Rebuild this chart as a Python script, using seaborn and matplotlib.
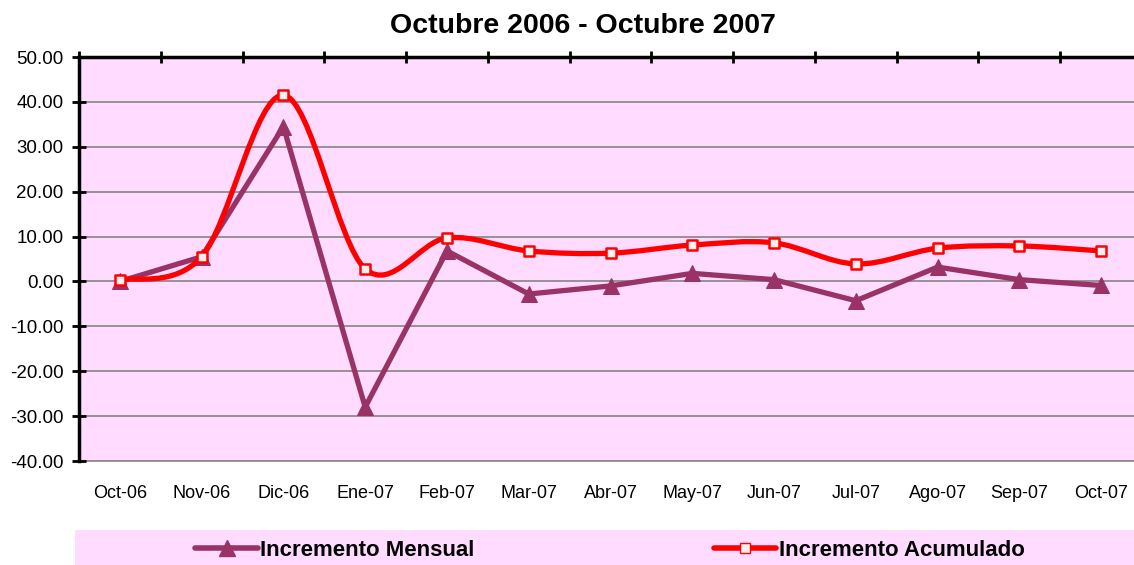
import numpy as np
import pandas as pd
import matplotlib
matplotlib.use("Agg")
import matplotlib.pyplot as plt
from matplotlib.path import Path
from matplotlib.patches import PathPatch, Rectangle
from matplotlib.lines import Line2D
import seaborn as sns

# values
meses = ["Oct-06", "Nov-06", "Dic-06", "Ene-07", "Feb-07", "Mar-07", "Abr-07",
         "May-07", "Jun-07", "Jul-07", "Ago-07", "Sep-07", "Oct-07"]
mensual = [0.0, 5.5, 34.5, -28.0, 6.8, -2.8, -1.0, 1.8, 0.4, -4.3, 3.2, 0.4, -0.9]
acumulado = [0.3, 5.5, 41.5, 2.8, 9.7, 6.8, 6.3, 8.1, 8.6, 3.9, 7.4, 7.9, 6.8]
y_ticks = [-40, -30, -20, -10, 0, 10, 20, 30, 40, 50]

PINK = "#FFDCFF"
PLUM = "#993366"
RED = "#FF0000"

sns.set_style("white")
plt.rcParams["font.family"] = ["Liberation Sans", "DejaVu Sans"]
plt.rcParams["text.color"] = "black"
plt.rcParams["xtick.color"] = "black"
plt.rcParams["ytick.color"] = "black"

df = pd.DataFrame({"mes": meses, "pos": np.arange(len(meses)),
                   "mensual": mensual, "acumulado": acumulado})

fig = plt.figure(figsize=(11.34, 5.65), dpi=100)
W, H = 1134, 565
ax = fig.add_axes([79 / W, 1 - 461 / H, (1142 - 79) / W, (461 - 57) / H])
ax.set_facecolor(PINK)

# smoothed red curve (Excel style), bezier through the data points
pts = df[["pos", "acumulado"]].to_numpy(dtype=float)
ext = np.vstack([pts[0], pts, pts[-1]])
verts = [tuple(pts[0])]
codes = [Path.MOVETO]
for i in range(1, len(ext) - 2):
    p0, p1, p2, p3 = ext[i - 1], ext[i], ext[i + 1], ext[i + 2]
    c1 = p1 + (p2 - p0) / 6
    c2 = p2 - (p3 - p1) / 6
    verts += [tuple(c1), tuple(c2), tuple(p2)]
    codes += [Path.CURVE4] * 3
ax.add_patch(PathPatch(Path(verts, codes), facecolor="none", edgecolor=RED,
                       lw=3.8, zorder=3, transform=ax.transData))
ax.scatter(df["pos"], df["acumulado"], marker="s", s=55, facecolor="#FFEEEE",
           edgecolor=RED, linewidths=1.8, zorder=4)

sns.lineplot(data=df, x="pos", y="mensual", ax=ax, color=PLUM, lw=3.8,
             marker="^", markersize=12, markeredgecolor=PLUM, zorder=2)

ax.set_xlim(-0.5, len(meses) - 0.5)
ax.set_ylim(-40, 50)
ax.set_yticks(y_ticks)
ax.set_yticklabels([f"{v:.2f}" for v in y_ticks], fontsize=13.5)
ax.set_xticks(df["pos"])
ax.set_xticklabels(meses, fontsize=13)
ax.set_xticks(np.arange(-0.5, len(meses), 1.0), minor=True)
ax.tick_params(axis="x", which="major", length=0, pad=17, bottom=True, top=False)
ax.tick_params(axis="x", which="minor", top=True, bottom=False, direction="inout",
               length=9, width=2, color="black")
ax.tick_params(axis="y", which="major", left=True, direction="inout", length=10,
               width=2, color="black", pad=6)
ax.set_xlabel("")
ax.set_ylabel("")

ax.yaxis.grid(True, color="#8C8C8C", lw=1.3)
ax.set_axisbelow(True)
for s in ["left", "top"]:
    ax.spines[s].set_color("black")
    ax.spines[s].set_linewidth(2.5)
ax.spines["bottom"].set_color("#8C8C8C")
ax.spines["bottom"].set_linewidth(1.3)
ax.spines["right"].set_visible(False)
ax.spines["bottom"].set_zorder(0)

fig.text(583 / W, 1 - 26 / H, "Octubre 2006 - Octubre 2007", ha="center",
         va="center", fontsize=20.5, fontweight="bold")

# legend band
fig.add_artist(Rectangle((75 / W, 1 - 565 / H), (1134 - 75) / W, 35 / H,
                         transform=fig.transFigure, facecolor=PINK,
                         edgecolor="none"))
handles = [Line2D([], [], color=PLUM, lw=4, marker="^", markersize=11,
                  markeredgecolor=PLUM),
           Line2D([], [], color=RED, lw=4, marker="s", markersize=7,
                  markerfacecolor="#FFEEEE", markeredgecolor=RED)]
fig.legend(handles, ["Incremento Mensual", "Incremento Acumulado"],
           loc="center", bbox_to_anchor=(610 / W, 1 - 550 / H), ncol=2,
           frameon=False, prop={"weight": "bold", "size": 16},
           handlelength=2.8, handletextpad=0.1, columnspacing=10.8)

fig.savefig("out.png", dpi=100)
